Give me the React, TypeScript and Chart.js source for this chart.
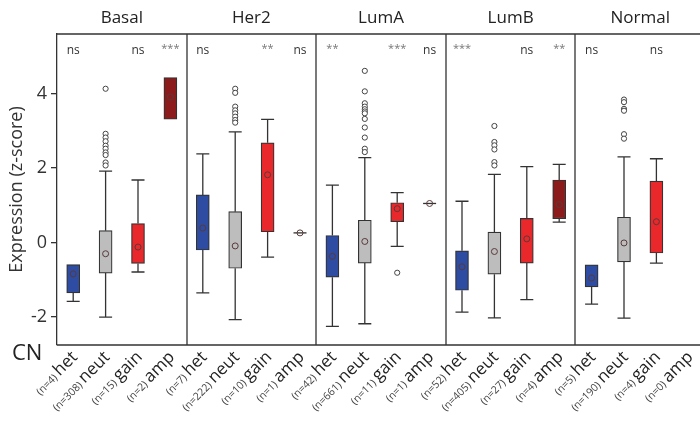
import React, { useEffect, useRef } from "react";
import { Chart, registerables } from "chart.js";

Chart.register(...registerables);

const groups = ["Basal", "Her2", "LumA", "LumB", "Normal"];
const cnTypes = ["het", "neut", "gain", "amp"];
const cnColors = ["#2D4CA2", "#BDBDBD", "#E8282B", "#8C1C1C"];
const counts = [4, 308, 15, 2, 7, 222, 10, 1, 42, 661, 11, 1, 52, 405, 27, 4, 5, 190, 4, 0];
const q1 = [-1.35, -0.82, -0.56, 3.31, -0.2, -0.69, 0.29, 0.26, -0.93, -0.55, 0.56, 1.05, -1.28, -0.85, -0.55, 0.64, -1.19, -0.52, -0.28, null];
const q3 = [-0.59, 0.32, 0.51, 4.43, 1.28, 0.83, 2.68, 0.26, 0.19, 0.6, 1.07, 1.05, -0.22, 0.28, 0.65, 1.68, -0.6, 0.68, 1.65, null];
const whiskerLow = [-1.58, -2.0, -0.79, 3.31, -1.35, -2.07, -0.39, 0.26, -2.25, -2.18, -0.1, 1.05, -1.87, -2.02, -1.53, 0.55, -1.65, -2.03, -0.55, null];
const whiskerHigh = [-0.59, 1.92, 1.68, 4.43, 2.38, 2.97, 3.31, 0.26, 1.54, 2.28, 1.34, 1.05, 1.11, 1.83, 2.04, 2.1, -0.6, 2.3, 2.25, null];
const means = [-0.84, -0.3, -0.12, 3.91, 0.39, -0.09, 1.82, 0.26, -0.37, 0.03, 0.91, 1.05, -0.65, -0.24, 0.1, 1.02, -0.95, -0.01, 0.56, null];
const outliers: number[][] = [
  [], [4.13, 2.92, 2.82, 2.72, 2.6, 2.52, 2.42, 2.35, 2.15, 2.07], [], [],
  [], [4.13, 4.02, 3.65, 3.55, 3.47, 3.38, 3.29, 3.22], [], [],
  [], [4.61, 4.06, 3.74, 3.65, 3.58, 3.52, 3.47, 3.32, 3.09, 2.82, 2.52, 2.43], [-0.81], [],
  [], [3.13, 2.7, 2.61, 2.5, 2.16, 2.07], [], [],
  [], [3.84, 3.77, 3.59, 3.54, 2.91, 2.79], [], [],
];
const significance = ["ns", "", "ns", "***", "ns", "", "**", "ns", "**", "", "***", "ns", "***", "", "ns", "**", "ns", "", "ns", ""];
const yTicks = [-2, 0, 2, 4];
const yMin = -2.75;
const yMax = 5.6;

const labels: string[] = [];
groups.forEach((g) => cnTypes.forEach((c) => labels.push(g + " " + c)));

const FONT = "'Open Sans', 'Noto Sans', sans-serif";

const boxPlugin = {
  id: "boxExtras",
  beforeDatasetsDraw(chart: any) {
    const ctx = chart.ctx;
    const x = chart.scales.x;
    const y = chart.scales.y;
    const half = 6.5;
    ctx.save();
    ctx.strokeStyle = "#333";
    ctx.lineWidth = 1.3;
    labels.forEach((_, i) => {
      if (q1[i] === null) return;
      const cx = x.getPixelForValue(i);
      const lo = whiskerLow[i] as number;
      const hi = whiskerHigh[i] as number;
      const a = q1[i] as number;
      const b = q3[i] as number;
      ctx.beginPath();
      if (hi > b) {
        ctx.moveTo(cx, y.getPixelForValue(b));
        ctx.lineTo(cx, y.getPixelForValue(hi));
        ctx.moveTo(cx - half, y.getPixelForValue(hi));
        ctx.lineTo(cx + half, y.getPixelForValue(hi));
      }
      if (lo < a) {
        ctx.moveTo(cx, y.getPixelForValue(a));
        ctx.lineTo(cx, y.getPixelForValue(lo));
        ctx.moveTo(cx - half, y.getPixelForValue(lo));
        ctx.lineTo(cx + half, y.getPixelForValue(lo));
      }
      if (a === b) {
        ctx.moveTo(cx - half, y.getPixelForValue(a));
        ctx.lineTo(cx + half, y.getPixelForValue(a));
      }
      ctx.stroke();
    });
    ctx.restore();
  },
  afterDraw(chart: any) {
    const ctx = chart.ctx;
    const x = chart.scales.x;
    const { left, right, top, bottom } = chart.chartArea;
    ctx.save();
    // frame
    ctx.strokeStyle = "#333";
    ctx.lineWidth = 1.3;
    ctx.beginPath();
    ctx.moveTo(left, top);
    ctx.lineTo(right, top);
    ctx.moveTo(left, bottom);
    ctx.lineTo(right, bottom);
    for (let g = 1; g <= groups.length; g++) {
      const px = Math.round((x.getPixelForValue(g * 4 - 1) + x.getPixelForValue(Math.min(g * 4, labels.length - 1))) / 2);
      const sx = g === groups.length ? right : px;
      ctx.moveTo(sx, top);
      ctx.lineTo(sx, bottom);
    }
    ctx.stroke();
    // group titles
    ctx.fillStyle = "#222";
    ctx.font = "17px " + FONT;
    ctx.textAlign = "center";
    ctx.textBaseline = "middle";
    groups.forEach((g, gi) => {
      const cx = (x.getPixelForValue(gi * 4) + x.getPixelForValue(gi * 4 + 3)) / 2;
      ctx.fillText(g, cx, 18);
    });
    // significance
    labels.forEach((_, i) => {
      const s = significance[i];
      if (!s) return;
      const cx = x.getPixelForValue(i);
      if (s === "ns") {
        ctx.fillStyle = "#333";
        ctx.font = "12px " + FONT;
        ctx.fillText(s, cx, top + 17);
      } else {
        ctx.fillStyle = "#777";
        ctx.font = "11px " + FONT;
        ctx.fillText(s, cx, top + 15);
      }
    });
    // CN
    ctx.fillStyle = "#222";
    ctx.font = "22px " + FONT;
    ctx.textAlign = "left";
    ctx.fillText("CN", 12, bottom + 9);
    // x labels
    labels.forEach((_, i) => {
      const cx = x.getPixelForValue(i);
      const cn = cnTypes[i % 4];
      const nTxt = "(n=" + counts[i] + ") ";
      ctx.save();
      ctx.translate(cx + 5, bottom + 13);
      ctx.rotate(-Math.PI / 4);
      ctx.textAlign = "right";
      ctx.textBaseline = "alphabetic";
      ctx.fillStyle = "#222";
      ctx.font = "17px " + FONT;
      const w = ctx.measureText(cn).width;
      ctx.fillText(cn, 0, 0);
      ctx.fillStyle = "#444";
      ctx.font = "10.5px " + FONT;
      ctx.fillText(nTxt, -w, 0);
      ctx.restore();
    });
    ctx.restore();
  },
};

export default function App() {
  const ref = useRef<HTMLCanvasElement>(null);
  useEffect(() => {
    document.body.style.overflow = "hidden";
    const boxes = labels.map((_, i) => (q1[i] === null || q1[i] === q3[i] ? null : [q1[i], q3[i]]));
    const outlierPts: { x: string; y: number }[] = [];
    outliers.forEach((arr, i) => arr.forEach((v) => outlierPts.push({ x: labels[i], y: v })));
    const chart = new Chart(ref.current as HTMLCanvasElement, {
      type: "bar",
      data: {
        labels,
        datasets: [
          {
            type: "bar",
            data: boxes as any,
            backgroundColor: labels.map((_, i) => cnColors[i % 4]),
            borderColor: "#333",
            borderWidth: 1.2,
            borderSkipped: false,
            barThickness: 13,
            order: 2,
          } as any,
          {
            type: "line",
            data: means as any,
            showLine: false,
            pointStyle: "circle",
            pointRadius: 3,
            pointBorderWidth: 1,
            pointBorderColor: "#5a3a3a",
            pointBackgroundColor: "rgba(0,0,0,0)",
            order: 1,
          } as any,
          {
            type: "scatter",
            data: outlierPts as any,
            pointStyle: "circle",
            pointRadius: 2.6,
            pointBorderWidth: 1,
            pointBorderColor: "#444",
            pointBackgroundColor: "#fff",
            order: 0,
          } as any,
        ],
      },
      options: {
        animation: false,
        responsive: false,
        maintainAspectRatio: false,
        layout: { padding: { left: 0, right: 3, top: 34, bottom: 80 } },
        plugins: { legend: { display: false }, tooltip: { enabled: false } },
        scales: {
          x: {
            type: "category",
            display: false,
            offset: true,
          },
          y: {
            min: yMin,
            max: yMax,
            afterBuildTicks: (scale: any) => {
              scale.ticks = yTicks.map((v) => ({ value: v }));
            },
            afterFit: (scale: any) => {
              scale.width = 57;
            },
            ticks: {
              color: "#333",
              font: { size: 18, family: FONT },
              padding: 4,
            },
            grid: { drawOnChartArea: false, drawTicks: true, tickLength: 6, color: "#333", lineWidth: 1.3 },
            border: { display: true, color: "#333", width: 1.3 },
            title: {
              display: true,
              text: "Expression (z-score)",
              color: "#333",
              font: { size: 18, family: FONT },
              padding: { top: 6, bottom: 0 },
            },
          },
        },
      } as any,
      plugins: [boxPlugin],
    });
    return () => chart.destroy();
  }, []);
  return (
    <div style={{ position: "fixed", left: 0, top: 0, width: 710, height: 425 }}>
      <canvas ref={ref} width={710} height={425} style={{ width: 710, height: 425 }} />
    </div>
  );
}
